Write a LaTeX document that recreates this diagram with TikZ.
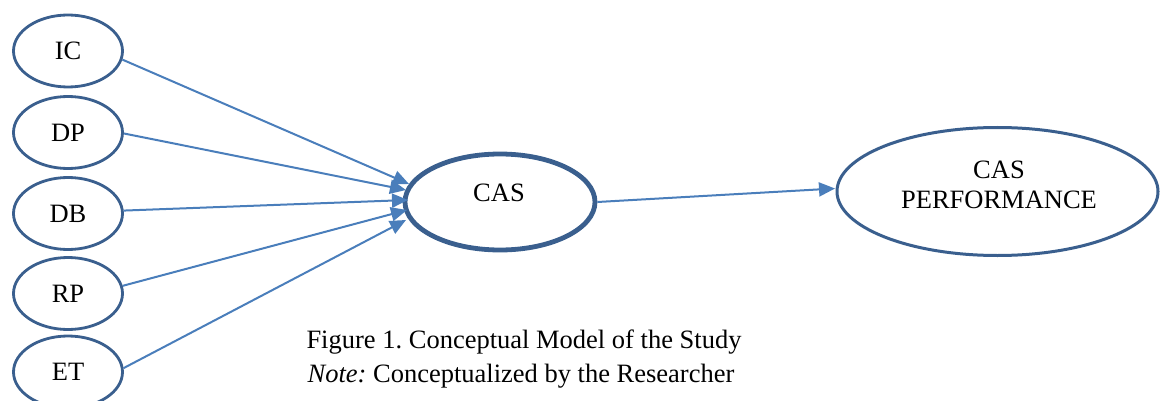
\documentclass[tikz,border=0pt]{standalone}
\usepackage{fontspec}
\setmainfont{Liberation Serif}
\usetikzlibrary{shapes.geometric,arrows.meta}
\definecolor{ellcol}{HTML}{3A5F8E}
\definecolor{arrcol}{HTML}{4A7EBB}
\frenchspacing
\tikzset{
  small/.style={ellipse,draw=ellcol,line width=2.8pt,minimum width=109pt,minimum height=72pt,inner sep=0pt,font=\fontsize{26.5}{30}\selectfont},
  mid/.style={ellipse,draw=ellcol,line width=4.8pt,minimum width=190pt,minimum height=96pt,inner sep=0pt},
  big/.style={ellipse,draw=ellcol,line width=3pt,minimum width=321pt,minimum height=128pt,inner sep=0pt},
  txt/.style={anchor=base,inner sep=0pt,font=\fontsize{26.5}{30}\selectfont},
  conn/.style={draw=arrcol,line width=2pt,-{Triangle[length=16pt,width=14pt]}}
}
\begin{document}
\begin{tikzpicture}[x=1pt,y=-1pt]
\useasboundingbox (0,0) rectangle (1161,401);
\node[small] (IC) at (68,51) {IC};
\node[small] (DP) at (68,132.5) {DP};
\node[small] (DB) at (68,213.5) {DB};
\node[small] (RP) at (68,293.5) {RP};
\node[small] (ET) at (68,372) {ET};
\node[mid] (CAS) at (500,202) {};
\node[txt] (CASt) at (499,201) {CAS};
\node[big] (PERF) at (997.5,191.5) {};
\node[txt] (PERFa) at (999,178) {CAS};
\node[txt] (PERFb) at (999,208) {PERFORMANCE};
\coordinate (t1) at (409,184);
\coordinate (t2) at (406,190);
\coordinate (t3) at (408,200);
\coordinate (t4) at (407,210);
\coordinate (t5) at (406,220);
\coordinate (tp) at (835,188.5);
\draw[conn] (IC.-9) -- (t1);
\draw[conn] (DP.-1) -- (t2);
\draw[conn] (DB.3) -- (t3);
\draw[conn] (RP.8) -- (t4);
\draw[conn] (ET.4) -- (t5);
\draw[conn] (CAS.east) -- (tp);
\node[txt] (cap1) at (524,348) {Figure 1. Conceptual Model of the Study};
\node[txt] (cap2) at (521,382) {\textit{Note:} Conceptualized by the Researcher};
\end{tikzpicture}
\end{document}
